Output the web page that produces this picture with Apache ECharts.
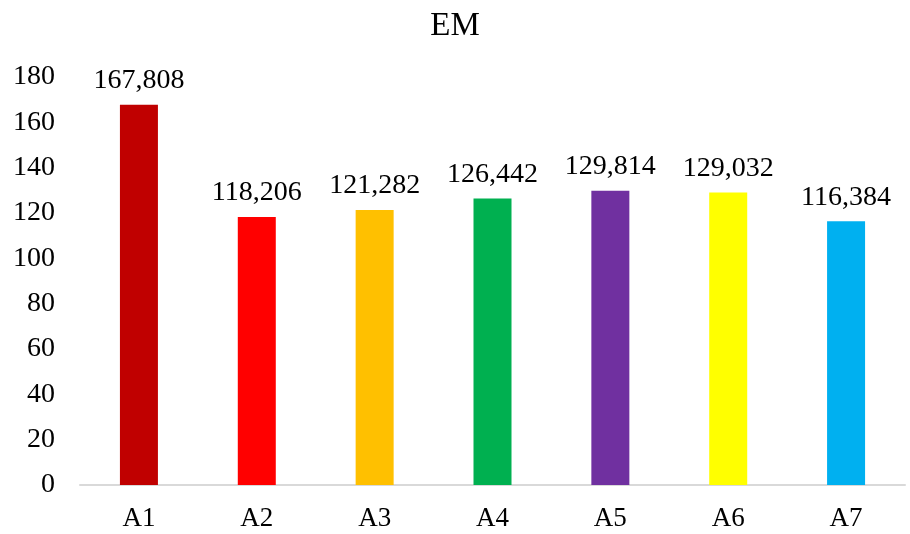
<!DOCTYPE html>
<html>
<head>
<meta charset="utf-8">
<script src="https://cdn.jsdelivr.net/npm/echarts@6/dist/echarts.min.js"></script>
<style>html,body{margin:0;padding:0;background:#fff}#c{width:910px;height:534px}</style>
</head>
<body>
<div id="c"></div>
<script>
const categories = ['A1','A2','A3','A4','A5','A6','A7'];
const values = [167.808, 118.206, 121.282, 126.442, 129.814, 129.032, 116.384];
const colors = ['#C00000','#FF0000','#FFC000','#00B050','#7030A0','#FFFF00','#00B0F0'];
const yTicks = {min: 0, max: 180, interval: 20};
const font = '"Liberation Serif", "Times New Roman", serif';

const chart = echarts.init(document.getElementById('c'));
chart.setOption({
  animation: false,
  title: {
    text: 'EM', left: 'center', top: 5,
    textStyle: {fontFamily: font, fontSize: 33, fontWeight: 'normal', color: '#000'}
  },
  grid: {left: 80, right: 5, top: 77, bottom: 49},
  xAxis: {
    type: 'category', data: categories,
    axisLine: {lineStyle: {color: '#d9d9d9', width: 2}},
    axisTick: {show: false},
    axisLabel: {fontFamily: font, fontSize: 27, color: '#000', margin: 20}
  },
  yAxis: {
    type: 'value', min: yTicks.min, max: yTicks.max, interval: yTicks.interval,
    axisLine: {show: false}, axisTick: {show: false}, splitLine: {show: false},
    axisLabel: {fontFamily: font, fontSize: 28, color: '#000', margin: 25}
  },
  series: [{
    type: 'bar', barWidth: 38,
    data: values.map((v, i) => ({value: v, itemStyle: {color: colors[i]}})),
    label: {
      show: true, position: 'top', distance: 10,
      fontFamily: font, fontSize: 28, color: '#000',
      formatter: p => p.value.toFixed(3).replace('.', ',')
    }
  }]
});
</script>
</body>
</html>
